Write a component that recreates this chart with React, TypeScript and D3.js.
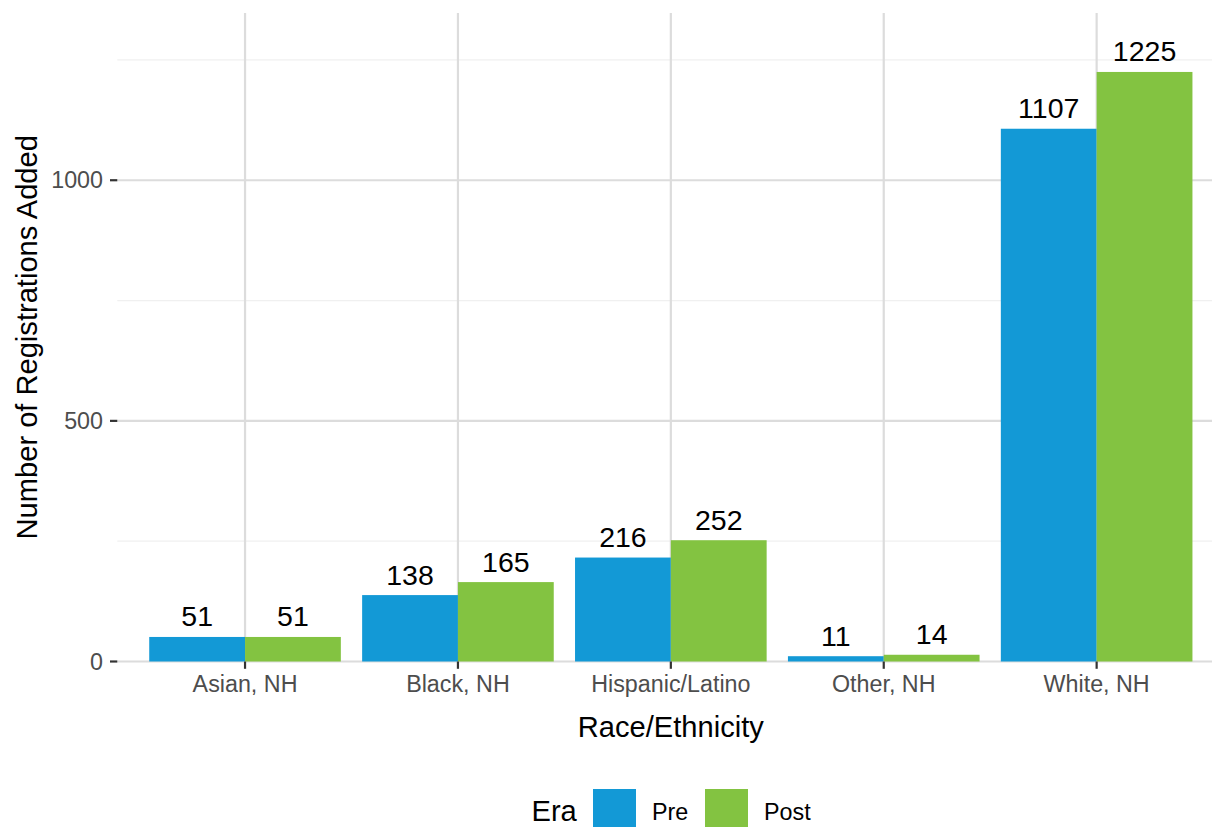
import React from "react";
import * as d3 from "d3";

const categories = ["Asian, NH", "Black, NH", "Hispanic/Latino", "Other, NH", "White, NH"];
const eras = ["Pre", "Post"];
const preValues = [51, 138, 216, 11, 1107];
const postValues = [51, 165, 252, 14, 1225];
const yTicks = [0, 500, 1000];
const yMinorTicks = [250, 750, 1250];
const eraColors = ["#1399d6", "#83c341"];

const W = 1212;
const H = 827;
const FONT = "'Liberation Sans', Arial, Helvetica, sans-serif";

export default function App() {
  const panelLeft = 117.3;
  const panelTop = 13;
  const panelBottom = 661.5;
  const step = 212.9;
  const panelRight = panelLeft + step * 5.2;

  const x = d3
    .scaleBand<string>()
    .domain(categories)
    .range([panelLeft + step * 0.6 - step / 2, panelLeft + step * 0.6 - step / 2 + step * 5])
    .paddingInner(0)
    .paddingOuter(0);
  const xCenter = (c: string) => (x(c) as number) + x.bandwidth() / 2;
  const maxV = d3.max(postValues.concat(preValues)) as number;
  const y = d3.scaleLinear().domain([0, maxV * 1.1]).range([panelBottom, panelTop]);
  const dodge = d3.scaleBand<string>().domain(eras).range([-step * 0.45, step * 0.45]);

  const series = [preValues, postValues];

  return (
    <svg
      width={W}
      height={H}
      style={{ position: "absolute", left: 0, top: 0, background: "#fff" }}
      fontFamily={FONT}
    >
      <defs>
        <clipPath id="page">
          <rect x={0} y={0} width={W} height={H} />
        </clipPath>
      </defs>
      {/* minor gridlines */}
      {yMinorTicks.map((t) => (
        <line key={"mn" + t} x1={panelLeft} x2={panelRight} y1={y(t)} y2={y(t)} stroke="#f0f0f0" strokeWidth={1.2} />
      ))}
      {/* major gridlines */}
      {yTicks.map((t) => (
        <line key={"mj" + t} x1={panelLeft} x2={panelRight} y1={y(t)} y2={y(t)} stroke="#dcdcdc" strokeWidth={2.2} />
      ))}
      {categories.map((c) => (
        <line key={"vg" + c} x1={xCenter(c)} x2={xCenter(c)} y1={panelTop} y2={panelBottom} stroke="#dcdcdc" strokeWidth={2.2} />
      ))}
      {/* bars */}
      {series.map((vals, si) =>
        categories.map((c, ci) => {
          const x0 = xCenter(c) + (dodge(eras[si]) as number);
          return (
            <rect
              key={"b" + si + ci}
              x={x0}
              y={y(vals[ci])}
              width={dodge.bandwidth()}
              height={panelBottom - y(vals[ci])}
              fill={eraColors[si]}
            />
          );
        })
      )}
      {/* value labels */}
      {series.map((vals, si) =>
        categories.map((c, ci) => {
          const cx = xCenter(c) + (dodge(eras[si]) as number) + dodge.bandwidth() / 2;
          return (
            <text key={"l" + si + ci} x={cx} y={y(vals[ci]) - 10.5} textAnchor="middle" fontSize={28.5} fill="#000">
              {vals[ci]}
            </text>
          );
        })
      )}
      {/* y axis ticks and labels */}
      {yTicks.map((t) => (
        <g key={"yt" + t}>
          <line x1={110} x2={117.3} y1={y(t)} y2={y(t)} stroke="#333" strokeWidth={2.2} />
          <text x={103} y={y(t)} dy="0.35em" textAnchor="end" fontSize={23.3} fill="#4d4d4d">
            {t}
          </text>
        </g>
      ))}
      {/* x axis ticks and labels */}
      {categories.map((c) => (
        <g key={"xt" + c}>
          <line x1={xCenter(c)} x2={xCenter(c)} y1={panelBottom} y2={panelBottom + 7.3} stroke="#333" strokeWidth={2.2} />
          <text x={xCenter(c)} y={692} textAnchor="middle" fontSize={23.3} fill="#4d4d4d">
            {c}
          </text>
        </g>
      ))}
      {/* axis titles */}
      <text x={(panelLeft + panelRight) / 2 > 671 ? xCenter(categories[2]) : (panelLeft + panelRight) / 2} y={736.5} textAnchor="middle" fontSize={29.1} fill="#000">
        Race/Ethnicity
      </text>
      <text transform={`translate(37,${(panelTop + panelBottom) / 2}) rotate(-90)`} textAnchor="middle" fontSize={29.1} fill="#000">
        Number of Registrations Added
      </text>
      {/* legend */}
      <g clipPath="url(#page)">
        <text x={531.5} y={820.5} fontSize={29.1} fill="#000">
          Era
        </text>
        {eras.map((e, i) => {
          const kx = i === 0 ? 593 : 705;
          return (
            <g key={"lg" + e}>
              <rect x={kx} y={789} width={43} height={43} fill={eraColors[i]} />
              <text x={kx + 59} y={819.5} fontSize={23.3} fill="#000">
                {e}
              </text>
            </g>
          );
        })}
      </g>
    </svg>
  );
}
